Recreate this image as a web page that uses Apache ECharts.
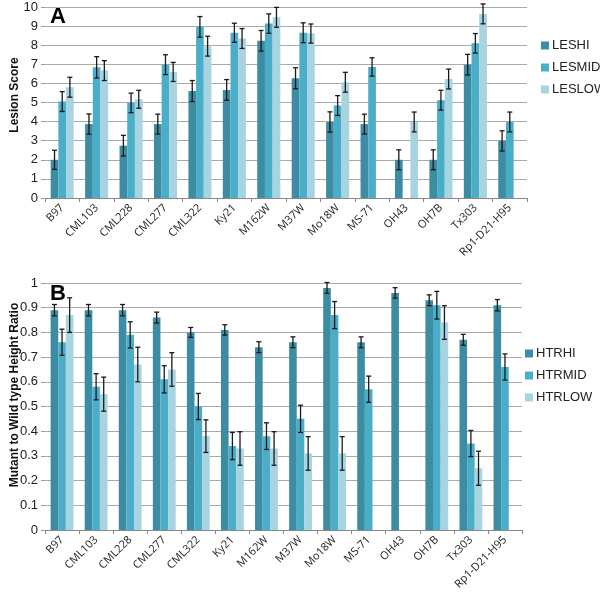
<!DOCTYPE html>
<html><head><meta charset="utf-8">
<script src="https://cdn.jsdelivr.net/npm/echarts@6/dist/echarts.min.js"></script>
<style>html,body{margin:0;padding:0;background:#fff}#c{width:600px;height:594px}</style>
</head><body><div id="c"></div>
<script>
var categories = ['B97','CML103','CML228','CML277','CML322','Ky21','M162W','M37W','Mo18W','MS-71','OH43','OH7B','Tx303','Rp1-D21-H95'];
var lesNames = ['LESHI','LESMID','LESLOW'];
var lesHI  = [2.0,3.87,2.74,3.87,5.6,5.66,8.23,6.27,3.98,3.87,2.0,2.0,6.98,2.99];
var lesMID = [5.05,6.84,4.98,6.98,8.96,8.65,9.13,8.65,4.84,6.86,null,5.12,8.1,3.98];
var lesLOW = [5.8,6.67,5.17,6.6,7.95,8.35,9.46,8.61,6.06,null,3.98,6.23,9.64,null];
var lesHIerr  = [0.5,0.53,0.54,0.52,0.55,0.54,0.54,0.55,0.53,0.52,0.52,0.52,0.54,0.53];
var lesMIDerr = [0.52,0.56,0.51,0.52,0.54,0.5,0.51,0.52,0.52,0.48,null,0.52,0.51,0.52];
var lesLOWerr = [0.52,0.52,0.47,0.5,0.52,0.52,0.52,0.5,0.52,null,0.52,0.52,0.52,null];
var htrNames = ['HTRHI','HTRMID','HTRLOW'];
var htrHI  = [0.89,0.89,0.89,0.86,0.80,0.81,0.74,0.76,0.98,0.76,0.96,0.93,0.77,0.91];
var htrMID = [0.76,0.58,0.79,0.61,0.50,0.34,0.38,0.45,0.87,0.57,null,0.91,0.35,0.66];
var htrLOW = [0.87,0.55,0.67,0.65,0.38,0.33,0.33,0.31,0.31,null,null,0.84,0.25,null];
var htrHIerr  = [0.023,0.023,0.023,0.022,0.02,0.021,0.022,0.022,0.022,0.022,0.021,0.022,0.022,0.023];
var htrMIDerr = [0.053,0.053,0.053,0.055,0.053,0.055,0.054,0.055,0.055,0.053,null,0.056,0.053,0.053];
var htrLOWerr = [0.07,0.069,0.07,0.068,0.066,0.068,0.068,0.068,0.068,null,null,0.068,0.069,null];

var colors = ['#3c8ca3','#4aaec8','#a8d3e0'];
var GAP = 0.33;
var FONT = '"Liberation Sans", Arial, sans-serif';

function errData(vals, errs){
  var out=[];
  for(var i=0;i<vals.length;i++){ if(vals[i]!=null && errs[i]!=null) out.push([i, vals[i]-errs[i], vals[i]+errs[i]]); }
  return out;
}
function errRender(k){
  return function(params, api){
    var x=api.value(0), lo=api.value(1), hi=api.value(2);
    var p1=api.coord([x,hi]), p2=api.coord([x,lo]);
    var band=api.size([1,0])[0];
    var bw=band*(1-GAP)/3;
    var cx=p1[0]+(k-1)*bw;
    var c=2.5;
    var st={stroke:'#1a1a1a',lineWidth:1.3};
    return {type:'group',children:[
      {type:'line',shape:{x1:cx,y1:p1[1],x2:cx,y2:p2[1]},style:st},
      {type:'line',shape:{x1:cx-c,y1:p1[1],x2:cx+c,y2:p1[1]},style:st},
      {type:'line',shape:{x1:cx-c,y1:p2[1],x2:cx+c,y2:p2[1]},style:st}
    ]};
  };
}
function xAxis(gi){
  return {type:'category',gridIndex:gi,data:categories,
    axisLine:{lineStyle:{color:'#888',width:1}},
    axisTick:{show:true,length:4,lineStyle:{color:'#888'}},
    axisLabel:{rotate:45,fontSize:11,color:'#222',fontFamily:'"Open Sans", sans-serif',margin:8,interval:0}};
}
function yAxis(gi,max,interval,fmt){
  return {type:'value',gridIndex:gi,min:0,max:max,interval:interval,
    axisLine:{show:false},
    axisTick:{show:true,length:4,lineStyle:{color:'#999'}},
    splitLine:{lineStyle:{color:'#aaa',width:1}},
    axisLabel:{fontSize:13,color:'#222',fontFamily:FONT,margin:7,formatter:fmt}};
}
var series=[];
var lesVals=[lesHI,lesMID,lesLOW], lesErrs=[lesHIerr,lesMIDerr,lesLOWerr];
var htrVals=[htrHI,htrMID,htrLOW], htrErrs=[htrHIerr,htrMIDerr,htrLOWerr];
for(var k=0;k<3;k++){
  series.push({type:'bar',name:lesNames[k],xAxisIndex:0,yAxisIndex:0,data:lesVals[k],barGap:'0%',barCategoryGap:(GAP*100)+'%',itemStyle:{color:colors[k]}});
}
for(var k=0;k<3;k++){
  series.push({type:'bar',name:htrNames[k],xAxisIndex:1,yAxisIndex:1,data:htrVals[k],barGap:'0%',barCategoryGap:(GAP*100)+'%',itemStyle:{color:colors[k]}});
}
for(var k=0;k<3;k++){
  series.push({type:'custom',xAxisIndex:0,yAxisIndex:0,renderItem:errRender(k),data:errData(lesVals[k],lesErrs[k]),z:10,silent:true});
  series.push({type:'custom',xAxisIndex:1,yAxisIndex:1,renderItem:errRender(k),data:errData(htrVals[k],htrErrs[k]),z:10,silent:true});
}
var chart=echarts.init(document.getElementById('c'),null,{renderer:'canvas'});
chart.setOption({
  animation:false,
  backgroundColor:'#fff',
  grid:[{left:45,top:7,width:482,height:191},{left:45,top:283,width:477,height:247}],
  xAxis:[xAxis(0),xAxis(1)],
  yAxis:[yAxis(0,10,1,function(v){return String(v);}),
         yAxis(1,1,0.1,function(v){return String(Math.round(v*10)/10);})],
  legend:[
    {data:lesNames,orient:'vertical',left:536,top:34,itemWidth:8,itemHeight:8,itemGap:9,icon:'rect',
     textStyle:{fontSize:13,color:'#222',fontFamily:FONT,padding:[0,0,0,-2]}},
    {data:htrNames,orient:'vertical',left:520,top:342,itemWidth:8,itemHeight:8,itemGap:9,icon:'rect',
     textStyle:{fontSize:13,color:'#222',fontFamily:FONT,padding:[0,0,0,-2]}}
  ],
  graphic:[
    {type:'text',left:50,top:6,style:{text:'A',font:'bold 22px '+FONT,fill:'#000'}},
    {type:'text',left:50,top:283,style:{text:'B',font:'bold 22px '+FONT,fill:'#000'}},
    {type:'text',x:15,y:95,rotation:Math.PI/2,style:{text:'Lesion Score',font:'bold 12px '+FONT,fill:'#111',align:'center',verticalAlign:'middle'}},
    {type:'text',x:15,y:395,rotation:Math.PI/2,style:{text:'Mutant to Wild type Height Ratio',font:'bold 12px '+FONT,fill:'#111',align:'center',verticalAlign:'middle'}}
  ],
  series:series
});
</script></body></html>
